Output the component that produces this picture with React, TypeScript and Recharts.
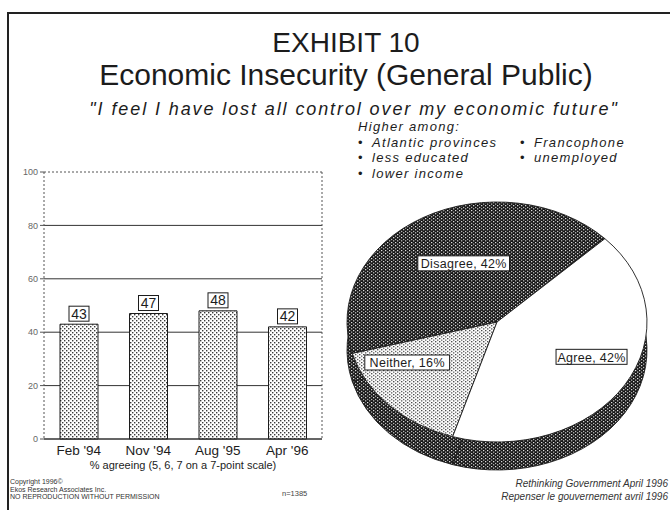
import {
  Bar,
  BarChart,
  CartesianGrid,
  LabelList,
  Pie,
  PieChart,
  ReferenceLine,
  XAxis,
  YAxis,
} from "recharts";

// bar chart: % agreeing over time
const periods = ["Feb '94", "Nov '94", "Aug '95", "Apr '96"];
const agreeing = [43, 47, 48, 42];
const yTicks = [0, 20, 40, 60, 80, 100];

// pie: latest breakdown
const pieLabels = ["Disagree", "Neither", "Agree"];
const pieValues = [42, 16, 42];

const higherAmongLeft = ["Atlantic provinces", "less educated", "lower income"];
const higherAmongRight = ["Francophone", "unemployed"];

const FONT = "'Liberation Sans', Arial, Helvetica, sans-serif";
const INK = "#1c1c1c";

const barData = periods.map((p, i) => ({ period: p, value: agreeing[i] }));
const pieData = pieLabels.map((name, i) => ({ name, value: pieValues[i] }));
const pieFills = ["url(#darkCheck)", "url(#lightDots)", "#ffffff"];
// label placement along each slice: share of radius, and a small angle nudge
const labelRadius = [0.45, 0.74, 0.74];
const labelAngleNudge = [0, -8, 0];

// vertical squash of the pie to fake the tilted 3d look
const TILT = 0.8;
const PIE_R = 150;
const PIE_DEPTH = 28;

function Patterns() {
  return (
    <defs>
      <pattern id="lightDots" width="4" height="4" patternUnits="userSpaceOnUse">
        <rect width="4" height="4" fill="#ffffff" />
        <rect x="0" y="0" width="1.4" height="1.4" fill="#3a3a3a" />
        <rect x="2" y="2" width="1.4" height="1.4" fill="#3a3a3a" />
      </pattern>
      <pattern id="darkCheck" width="4" height="4" patternUnits="userSpaceOnUse">
        <rect width="4" height="4" fill="#151515" />
        <rect x="0" y="0" width="1.3" height="1.3" fill="#f2f2f2" />
        <rect x="2" y="2" width="1.3" height="1.3" fill="#f2f2f2" />
      </pattern>
    </defs>
  );
}

function BoxedValue(props: any) {
  const { x, y, width, value } = props;
  const cx = Number(x) + Number(width) / 2;
  const top = Number(y) - 18;
  return (
    <g>
      <rect x={cx - 10} y={top} width={20} height={15} fill="#fff" stroke={INK} strokeWidth={1} />
      <text x={cx} y={top + 12.5} textAnchor="middle" fontSize={14} fill={INK} fontFamily={FONT}>
        {value}
      </text>
    </g>
  );
}

const RAD = Math.PI / 180;

function PieLabel(props: any) {
  const { cx, cy, midAngle, outerRadius, index } = props;
  const r = outerRadius * labelRadius[index];
  const a = (midAngle + labelAngleNudge[index]) * RAD;
  const x = cx + r * Math.cos(-a);
  const y = cy + r * Math.sin(-a) - 14;
  const text = `${pieLabels[index]}, ${pieValues[index]}%`;
  const w = text.length * 6.9 + 2;
  return (
    <g transform={`translate(${x},${y}) scale(1,${1 / TILT})`}>
      <rect x={-w / 2} y={-8} width={w} height={15} fill="#fff" stroke={INK} strokeWidth={1} />
      <text
        x={0}
        y={4.5}
        textAnchor="middle"
        fontSize={12.5}
        letterSpacing={0.3}
        fill={INK}
        fontFamily={FONT}
      >
        {text}
      </text>
    </g>
  );
}

const centred = (cx: number) => ({
  position: "absolute" as const,
  left: cx - 400,
  width: 800,
  textAlign: "center" as const,
  whiteSpace: "nowrap" as const,
});

function Bullet({ text }: { text: string }) {
  return (
    <div style={{ display: "flex" }}>
      <span style={{ width: 14, fontStyle: "normal" }}>{"\u2022"}</span>
      <span>{text}</span>
    </div>
  );
}

export default function App() {
  return (
    <div
      style={{
        position: "absolute",
        left: 0,
        top: 0,
        width: 670,
        height: 510,
        background: "#fff",
        overflow: "hidden",
        fontFamily: FONT,
        color: INK,
      }}
    >
      {/* page frame */}
      <div
        style={{
          position: "absolute",
          left: 7,
          top: 12,
          width: 680,
          height: 520,
          borderLeft: "2px solid #222",
          borderTop: "2px solid #222",
        }}
      />

      <div style={{ ...centred(346), top: 28, fontSize: 28, lineHeight: "30px" }}>EXHIBIT 10</div>
      <div style={{ ...centred(346), top: 59, fontSize: 30, lineHeight: "32px" }}>
        Economic Insecurity (General Public)
      </div>
      <div
        style={{
          ...centred(354),
          top: 94,
          fontSize: 18,
          lineHeight: "30px",
          fontStyle: "italic",
          letterSpacing: 1.9,
        }}
      >
        "I feel I have lost all control over my economic future"
      </div>

      <div
        style={{
          position: "absolute",
          left: 358,
          top: 119,
          fontSize: 13,
          lineHeight: "15.5px",
          fontStyle: "italic",
          letterSpacing: 1.3,
          whiteSpace: "nowrap",
        }}
      >
        <div>Higher among:</div>
        <div style={{ display: "flex" }}>
          <div style={{ width: 162 }}>
            {higherAmongLeft.map((t) => (
              <Bullet key={t} text={t} />
            ))}
          </div>
          <div>
            {higherAmongRight.map((t) => (
              <Bullet key={t} text={t} />
            ))}
          </div>
        </div>
      </div>

      <div style={{ position: "absolute", left: 0, top: 160 }}>
        <BarChart
          width={340}
          height={320}
          data={barData}
          margin={{ top: 12, right: 17, left: 10, bottom: 4 }}
        >
          <Patterns />
          <CartesianGrid vertical={false} stroke="#333" strokeWidth={1} />
          <XAxis
            dataKey="period"
            tickLine={false}
            axisLine={{ stroke: "#333" }}
            tick={{ fontSize: 13.5, fill: INK, fontFamily: FONT }}
            tickMargin={0}
            height={37}
            label={{
              value: "% agreeing (5, 6, 7 on a 7-point scale)",
              position: "insideBottom",
              offset: 7,
              fontSize: 11,
              fill: INK,
              fontFamily: FONT,
            }}
          />
          <YAxis
            domain={[0, 100]}
            ticks={yTicks}
            width={34}
            tickSize={4}
            tickLine={{ stroke: "#555" }}
            axisLine={{ stroke: "#555", strokeDasharray: "2 2" }}
            tick={{ fontSize: 9, fill: "#666", fontFamily: FONT }}
          />
          <YAxis
            yAxisId="right"
            orientation="right"
            domain={[0, 100]}
            width={1}
            tick={false}
            tickLine={false}
            axisLine={{ stroke: "#555", strokeDasharray: "2 2" }}
          />
          <ReferenceLine y={100} stroke="#fff" strokeWidth={2} />
          <ReferenceLine y={100} stroke="#555" strokeDasharray="2 2" />
          <Bar
            dataKey="value"
            fill="url(#lightDots)"
            stroke={INK}
            strokeWidth={1}
            barSize={38}
            isAnimationActive={false}
          >
            <LabelList dataKey="value" content={BoxedValue} />
          </Bar>
        </BarChart>
      </div>

      <div
        style={{
          position: "absolute",
          left: 337,
          top: 186,
          width: 320,
          height: 390,
          transform: `scaleY(${TILT})`,
          transformOrigin: "0 0",
        }}
      >
        <PieChart width={320} height={390} margin={{ top: 0, right: 0, bottom: 0, left: 0 }}>
          <Patterns />
          {/* rim */}
          <Pie
            data={pieData}
            dataKey="value"
            cx={160}
            cy={170 + PIE_DEPTH / TILT}
            outerRadius={PIE_R}
            startAngle={44}
            endAngle={404}
            fill="url(#darkCheck)"
            stroke={INK}
            strokeWidth={1}
            isAnimationActive={false}
          />
          {/* top face */}
          <Pie
            data={pieData.map((d, i) => ({ ...d, fill: pieFills[i] }))}
            dataKey="value"
            cx={160}
            cy={170}
            outerRadius={PIE_R}
            startAngle={44}
            endAngle={404}
            stroke={INK}
            strokeWidth={1}
            labelLine={false}
            label={PieLabel}
            isAnimationActive={false}
          />
        </PieChart>
      </div>

      {/* footer */}
      <div
        style={{
          position: "absolute",
          left: 10,
          top: 478,
          fontSize: 7,
          lineHeight: "7.5px",
          color: "#333",
          whiteSpace: "nowrap",
        }}
      >
        <div>Copyright 1996©</div>
        <div>Ekos Research Associates Inc.</div>
        <div>NO REPRODUCTION WITHOUT PERMISSION</div>
      </div>
      <div style={{ position: "absolute", left: 282, top: 489, fontSize: 7.5, color: "#444" }}>n=1385</div>
      <div
        style={{
          position: "absolute",
          right: 2,
          top: 477,
          fontSize: 10,
          lineHeight: "13px",
          fontStyle: "italic",
          textAlign: "right",
          color: "#333",
          whiteSpace: "nowrap",
        }}
      >
        <div>Rethinking Government April 1996</div>
        <div>Repenser le gouvernement avril 1996</div>
      </div>
    </div>
  );
}
